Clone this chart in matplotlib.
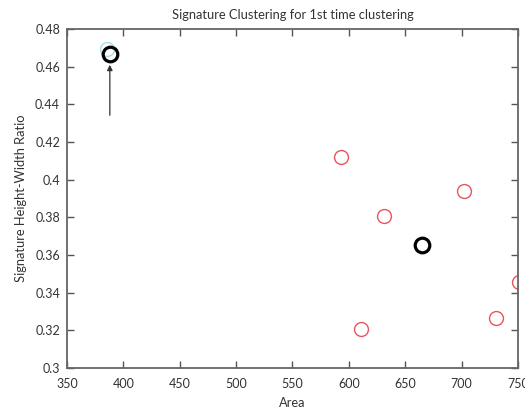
import matplotlib.pyplot as plt

# cluster members (red) and cluster centres (black)
area = [593, 702, 631, 751, 730.5, 610.5]
ratio = [0.4122, 0.394, 0.3807, 0.3458, 0.3264, 0.3207]
centre_area = [388, 665.3]
centre_ratio = [0.4667, 0.3655]
faint_area = [385.5]
faint_ratio = [0.4692]

xticks = [350, 400, 450, 500, 550, 600, 650, 700, 750]
yticks = [0.3, 0.32, 0.34, 0.36, 0.38, 0.4, 0.42, 0.44, 0.46, 0.48]

plt.rcParams['font.family'] = ['Lato', 'DejaVu Sans']
txt = '#333333'

fig = plt.figure(figsize=(5.25, 4.11), dpi=100)
ax = fig.add_axes([0.1276, 0.1046, 0.859, 0.8248])

ax.plot(faint_area, faint_ratio, 'o', mfc='none', mec='#a8dde0', ms=10, mew=1)
ax.plot(area, ratio, 'o', mfc='none', mec='#e8545c', ms=10, mew=1)
ax.plot(centre_area, centre_ratio, 'o', mfc='none', mec='black', ms=10.5, mew=2.3)

ax.annotate('', xy=(388, 0.4625), xytext=(388, 0.4327),
            arrowprops=dict(arrowstyle='-|>', color='#333333', lw=0.9, mutation_scale=8))

ax.set_xlim(350, 750)
ax.set_ylim(0.3, 0.48)
ax.set_xticks(xticks)
ax.set_xticklabels([str(t) for t in xticks])
ax.set_yticks(yticks)
ax.set_yticklabels(['0.3', '0.32', '0.34', '0.36', '0.38', '0.4', '0.42', '0.44', '0.46', '0.48'])
ax.tick_params(direction='in', length=5, width=1, color='#555555', labelsize=9,
               labelcolor=txt, top=True, right=True, pad=5)
ax.tick_params(axis='x', pad=7)
for s in ax.spines.values():
    s.set_color('#666666')
    s.set_linewidth(1.3)

ax.set_title('Signature Clustering for 1st time clustering', fontsize=9.3, color=txt, pad=7)
ax.set_xlabel('Area', fontsize=9.3, color=txt, labelpad=5)
ax.set_ylabel('Signature Height-Width Ratio', fontsize=9.3, color=txt, labelpad=6)

fig.savefig('out.png', dpi=100)
